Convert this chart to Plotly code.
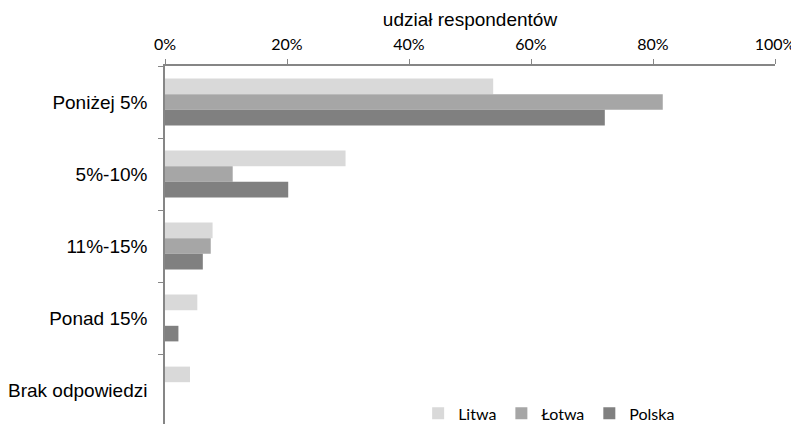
import plotly.graph_objects as go

categories = ["Poniżej 5%", "5%-10%", "11%-15%", "Ponad 15%", "Brak odpowiedzi"]
litwa = [0.538, 0.296, 0.078, 0.053, 0.041]
lotwa = [0.816, 0.111, 0.075, 0.0, 0.0]
polska = [0.721, 0.202, 0.062, 0.022, 0.0]

series = [("Litwa", litwa, "#D9D9D9"), ("Łotwa", lotwa, "#A6A6A6"), ("Polska", polska, "#808080")]

fig = go.Figure()
for name, vals, col in series:
    fig.add_trace(go.Bar(y=categories, x=vals, name=name, orientation="h",
                         marker=dict(color=col, line=dict(width=0))))

fig.update_layout(
    width=799, height=424,
    margin=dict(l=157, r=32, t=58, b=6, autoexpand=False),
    paper_bgcolor="white", plot_bgcolor="white",
    barmode="group", bargap=0.35, bargroupgap=0,
    font=dict(family="Liberation Sans, Arial", size=19, color="#000"),
    legend=dict(orientation="h", x=0.415, y=0.035, xanchor="left", yanchor="middle",
                font=dict(family="Lato, Open Sans", size=16), traceorder="normal",
                itemwidth=30, bgcolor="rgba(0,0,0,0)"),
    xaxis=dict(side="top", range=[0, 1], tickformat=".0%", dtick=0.2, tick0=0,
               automargin=False,
               showgrid=False, zeroline=False, showline=True, linecolor="#868686",
               linewidth=1.5, ticks="outside", ticklen=5, tickcolor="#868686",
               ticklabelstandoff=3,
               tickfont=dict(family="Lato, Open Sans", size=16),
               title=dict(text="udział respondentów", standoff=2,
                          font=dict(family="Liberation Sans, Arial", size=19))),
    yaxis=dict(autorange="reversed", showgrid=False, zeroline=False, showline=True,
               automargin=False,
               linecolor="#868686", linewidth=1.5, ticks="outside", ticklen=5,
               tickcolor="#868686", tickson="boundaries", ticklabelstandoff=12,
               tickfont=dict(family="Liberation Sans, Arial", size=19)),
)

fig.write_html("out.html")
